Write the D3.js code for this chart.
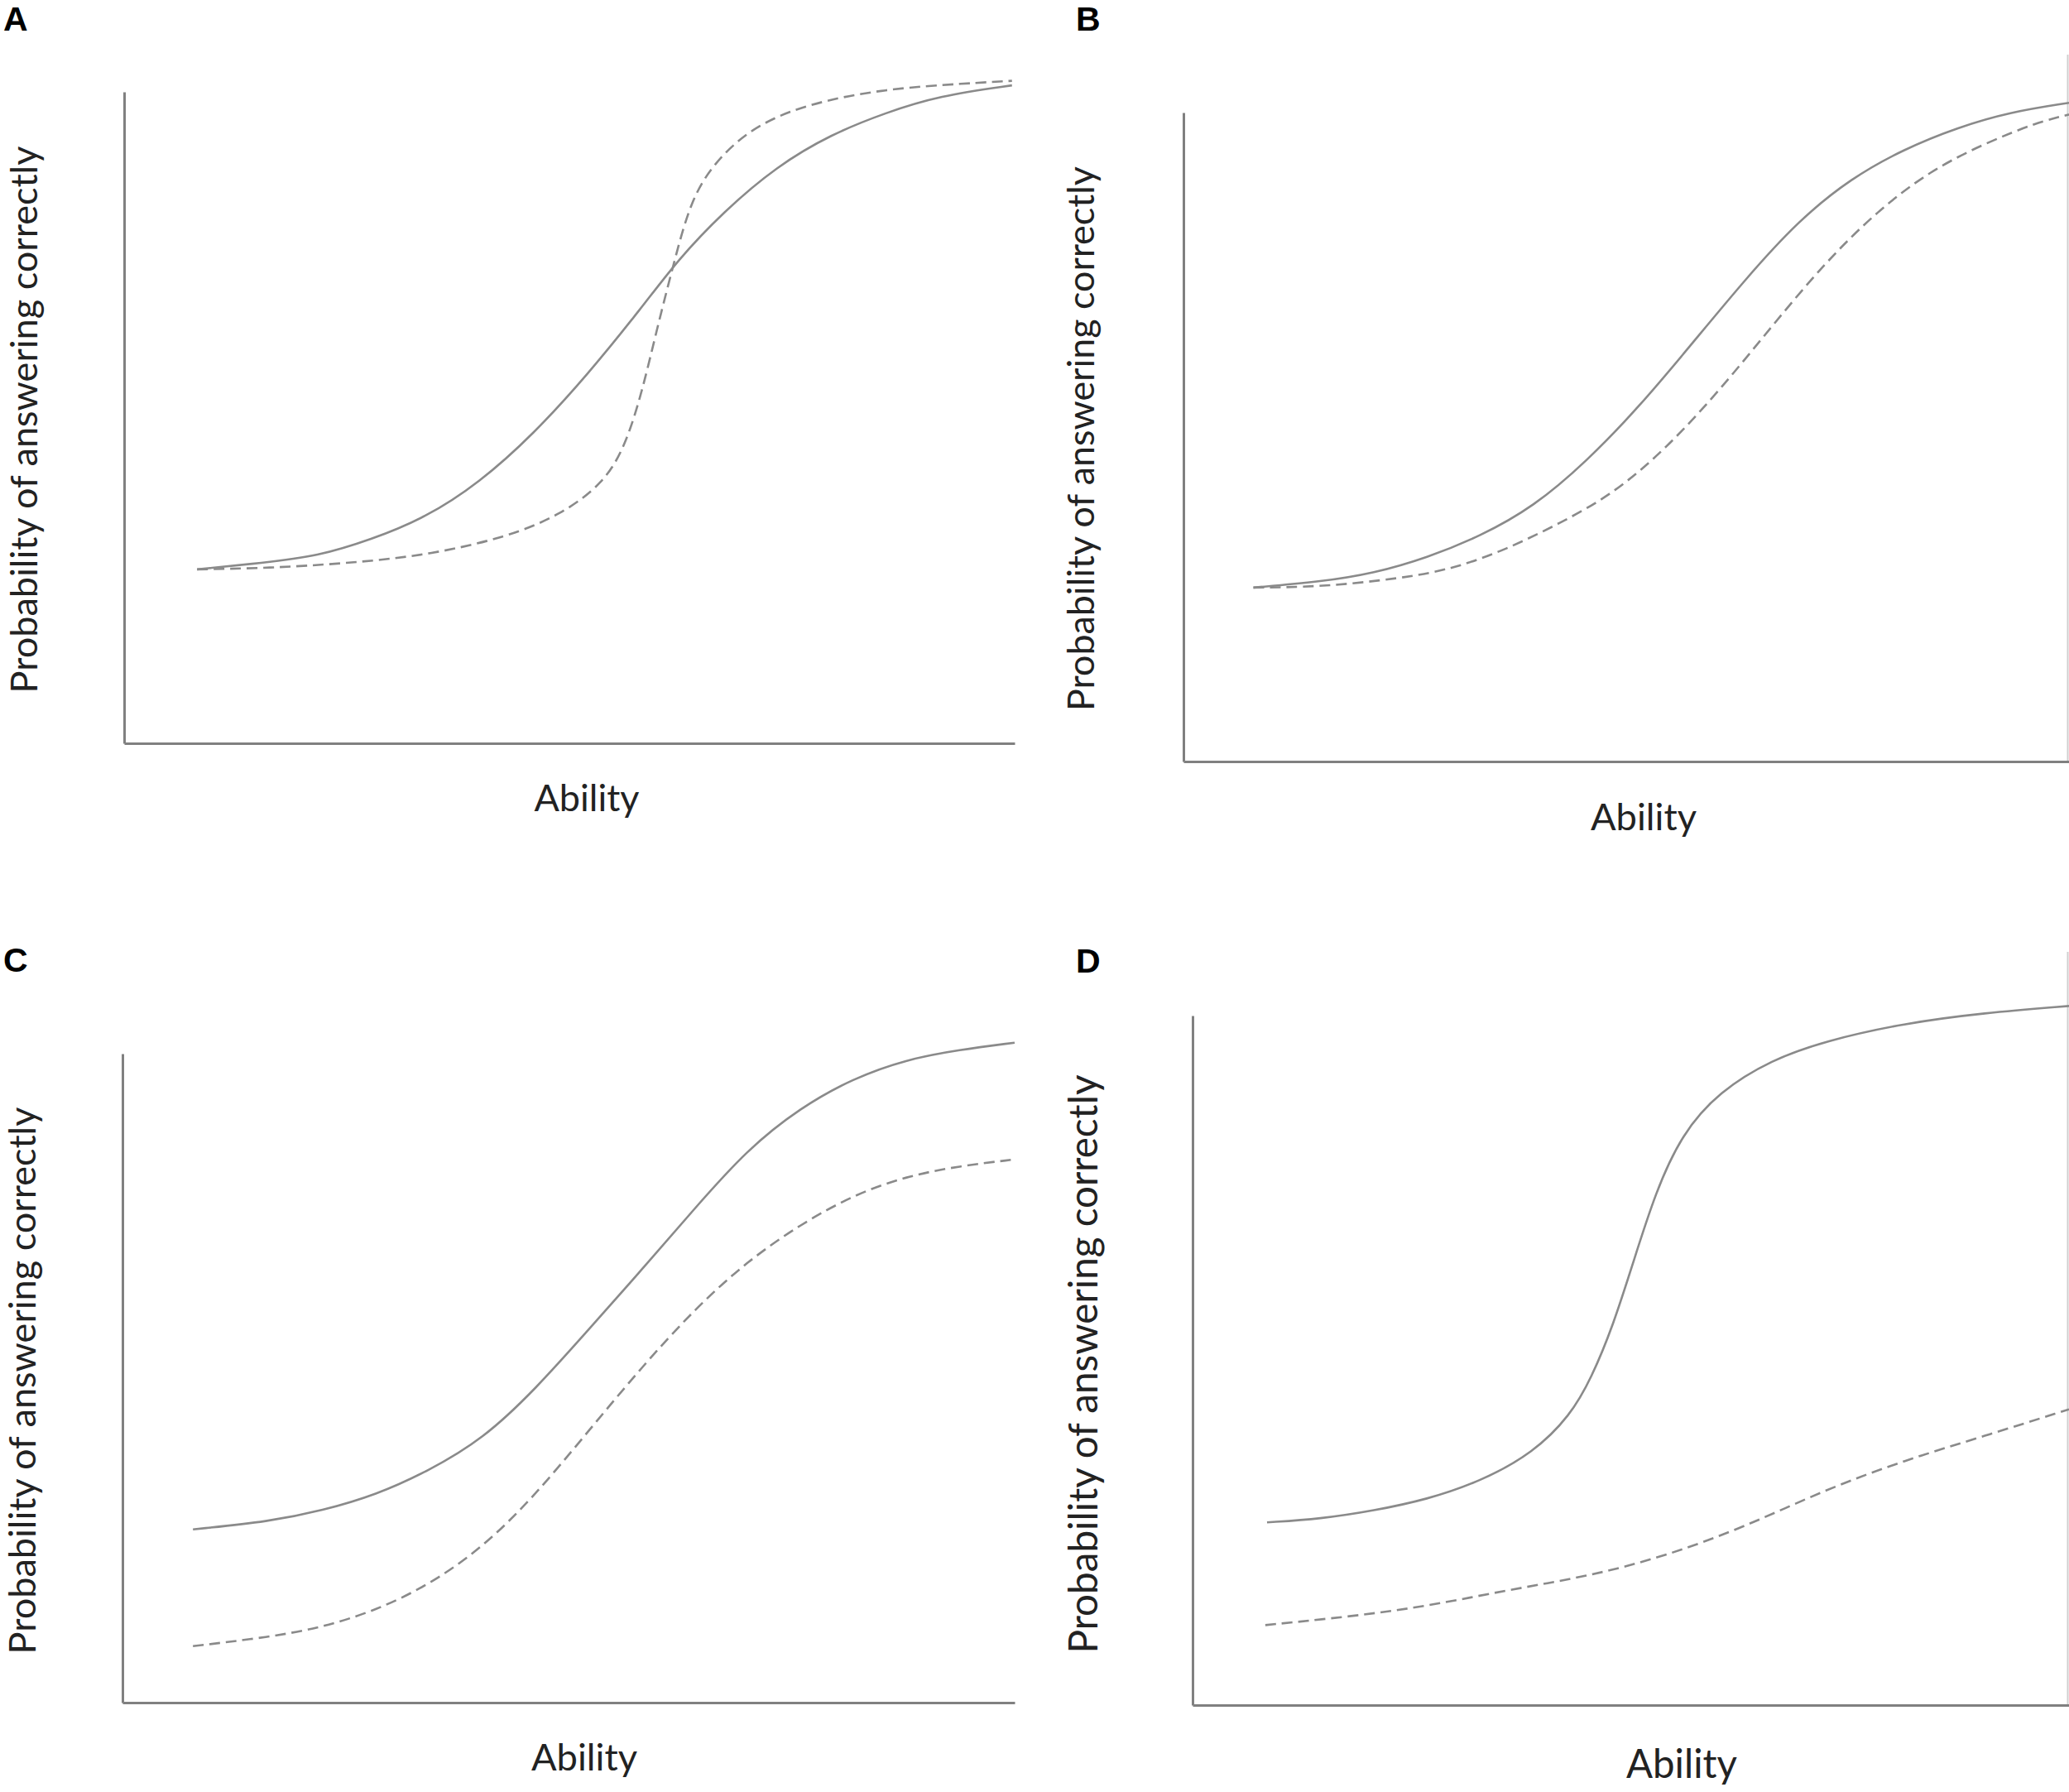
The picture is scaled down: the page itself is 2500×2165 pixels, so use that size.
<!DOCTYPE html>
<html>
<head>
<meta charset="utf-8">
<script src="https://cdn.jsdelivr.net/npm/d3@7"></script>
<style>
    body { margin: 0; background: #fff; }
    svg { display: block; }
</style>
</head>
<body>
<div id="chart"></div>
<script>
// curve values: [ability, probability], both on 0-100 axis units
const aSolid = [[8.2, 26.7], [15.6, 27.7], [21.7, 28.7], [27.8, 31.3], [33.8, 34.6], [39.9, 40.0], [46.0, 47.5],
    [52.0, 56.5], [58.2, 67.0], [62.1, 74.1], [67.3, 81.6], [73.3, 88.6], [79.4, 93.5], [85.5, 96.8], [91.5, 99.4], [99.7, 101.0]];
const aDashed = [[8.2, 26.7], [16.3, 26.9], [24.7, 27.6], [33.8, 28.8], [42.9, 31.6], [49.1, 35.1], [53.9, 40.0], [56.3, 45.7],
    [58.2, 54.1], [59.9, 64.0], [61.8, 74.1], [63.6, 83.2], [66.1, 88.9], [70.3, 94.4], [76.4, 98.1], [85.5, 100.5], [94.6, 101.3], [99.7, 101.7]];

const bSolid = [[7.9, 26.8], [15.5, 27.7], [21.5, 29.0], [27.5, 31.4], [33.5, 34.7], [39.5, 39.2], [45.5, 46.2], [51.5, 54.7],
    [57.5, 64.5], [63.5, 74.4], [69.4, 83.3], [75.4, 89.9], [81.4, 94.4], [87.4, 97.7], [93.4, 100.1], [100, 101.5]];
const bDashed = [[7.9, 26.8], [15.5, 26.9], [24.5, 28.2], [30.5, 29.7], [36.5, 32.7], [42.5, 36.7], [48.5, 41.2], [54.5, 48.2],
    [60.5, 57.1], [66.4, 67.0], [72.4, 76.8], [78.4, 84.9], [84.4, 91.1], [90.4, 95.2], [96.4, 98.5], [100, 99.7]];

const cSolid = [[7.9, 26.7], [16.5, 27.9], [22.4, 29.6], [28.4, 32.0], [34.3, 35.7], [40.4, 40.6], [46.3, 48.3], [52.2, 57.4],
    [58.2, 66.7], [64.1, 76.1], [70.0, 85.2], [76.0, 91.7], [81.9, 96.2], [87.8, 99.1], [93.8, 100.6], [100, 101.7]];
const cDashed = [[7.9, 8.7], [16.5, 10.1], [22.4, 11.6], [28.4, 14.2], [34.3, 18.1], [40.4, 23.9], [46.3, 32.0], [52.2, 41.8],
    [58.2, 51.7], [64.1, 60.6], [70.0, 68.0], [76.0, 73.7], [81.9, 78.2], [87.8, 81.1], [93.8, 82.7], [100, 83.7]];

const dSolid = [[8.5, 26.5], [14.6, 27.0], [20.7, 28.2], [26.7, 29.8], [32.8, 32.4], [38.9, 36.6], [43.1, 42.0], [45.5, 47.4],
    [48.0, 55.1], [50.3, 64.3], [52.8, 74.3], [55.8, 82.8], [60.1, 89.0], [66.1, 93.6], [72.1, 96.3], [81.2, 98.9], [90.3, 100.4], [100, 101.4]];
const dDashed = [[8.3, 11.6], [17.7, 12.8], [26.7, 14.3], [35.9, 16.7], [44.9, 18.6], [54.0, 21.6], [63.1, 25.9],
    [72.1, 31.2], [81.2, 35.5], [90.3, 39.0], [100, 42.9]];

const panelLetters = ["A", "B", "C", "D"];
const xTitle = "Ability";
const yTitle = "Probability of answering correctly";

const W = 2500, H = 2165;
const axisColor = "#808080";
const curveColor = "#8a8a8a";
const textColor = "#222";

// where each panel sits on the page
const panels = [
    { letter: panelLetters[0], solid: aSolid, dashed: aDashed, x0: 150, x1: 1226, yb: 898, yt: 111,
        lx: 4, ly: 37, yl: { x: 45, y: 507, len: 661 }, xl: { x: 709, y: 980, len: 127 } },
    { letter: panelLetters[1], solid: bSolid, dashed: bDashed, x0: 1430, x1: 2500, yb: 920, yt: 136,
        lx: 1300, ly: 37, yl: { x: 1322, y: 530, len: 658 }, xl: { x: 1986, y: 1003, len: 128 }, edge: [66, 920] },
    { letter: panelLetters[2], solid: cSolid, dashed: cDashed, x0: 148, x1: 1226, yb: 2057, yt: 1273,
        lx: 4, ly: 1174, yl: { x: 43, y: 1668, len: 661 }, xl: { x: 706, y: 2139, len: 128 } },
    { letter: panelLetters[3], solid: dSolid, dashed: dDashed, x0: 1441, x1: 2500, yb: 2060, yt: 1227,
        lx: 1300, ly: 1175, yl: { x: 1326, y: 1648, len: 699 }, xl: { x: 2032, y: 2148, len: 134 }, edge: [1150, 2060] }
];

const svg = d3.select("#chart")
    .append("svg")
    .attr("width", W)
    .attr("height", H);

// set font size so the text spans the measured length
const fitText = (sel, target) => {
    const base = 40;
    sel.style("font-size", base + "px");
    const len = sel.node().getComputedTextLength();
    sel.style("font-size", (base * target / len) + "px");
};

const drawPanel = (p) => {
    const x = d3.scaleLinear().domain([0, 100]).range([p.x0, p.x1]);
    const y = d3.scaleLinear().domain([0, 100]).range([p.yb, p.yt]);
    const g = svg.append("g").attr("class", "panel");

    // right crop border of the source image
    if (p.edge) {
        g.append("line")
            .attr("x1", W - 1.5).attr("x2", W - 1.5)
            .attr("y1", p.edge[0]).attr("y2", p.edge[1])
            .attr("stroke", "#cfcfcf")
            .attr("stroke-width", 2);
    }

    // axes, no ticks
    g.append("g")
        .attr("transform", "translate(0," + p.yb + ")")
        .call(d3.axisBottom(x).tickValues([]).tickSizeOuter(0))
        .call(a => a.select(".domain").attr("stroke", axisColor).attr("stroke-width", 3.2));
    g.append("g")
        .attr("transform", "translate(" + p.x0 + ",0)")
        .call(d3.axisLeft(y).tickValues([]).tickSizeOuter(0))
        .call(a => a.select(".domain").attr("stroke", axisColor).attr("stroke-width", 3));

    const line = d3.line()
        .x(d => x(d[0]))
        .y(d => y(d[1]))
        .curve(d3.curveBasis);

    g.append("path")
        .attr("d", line(p.dashed))
        .attr("fill", "none")
        .attr("stroke", curveColor)
        .attr("stroke-width", 2.6)
        .attr("stroke-dasharray", "13,7");

    g.append("path")
        .attr("d", line(p.solid))
        .attr("fill", "none")
        .attr("stroke", curveColor)
        .attr("stroke-width", 2.6);

    // panel letter
    g.append("text")
        .attr("x", p.lx)
        .attr("y", p.ly)
        .attr("font-family", "Liberation Sans, Arial, sans-serif")
        .attr("font-weight", "bold")
        .attr("font-size", 41)
        .attr("fill", "#000")
        .text(p.letter);

    // axis titles
    const xt = g.append("text")
        .attr("x", p.xl.x)
        .attr("y", p.xl.y)
        .attr("text-anchor", "middle")
        .attr("font-family", "Lato, Open Sans, sans-serif")
        .attr("fill", textColor)
        .text(xTitle);
    fitText(xt, p.xl.len);

    const yt = g.append("text")
        .attr("transform", "translate(" + p.yl.x + "," + p.yl.y + ") rotate(-90)")
        .attr("text-anchor", "middle")
        .attr("font-family", "Lato, Open Sans, sans-serif")
        .attr("fill", textColor)
        .text(yTitle);
    fitText(yt, p.yl.len);
};

panels.forEach(drawPanel);
</script>
</body>
</html>
